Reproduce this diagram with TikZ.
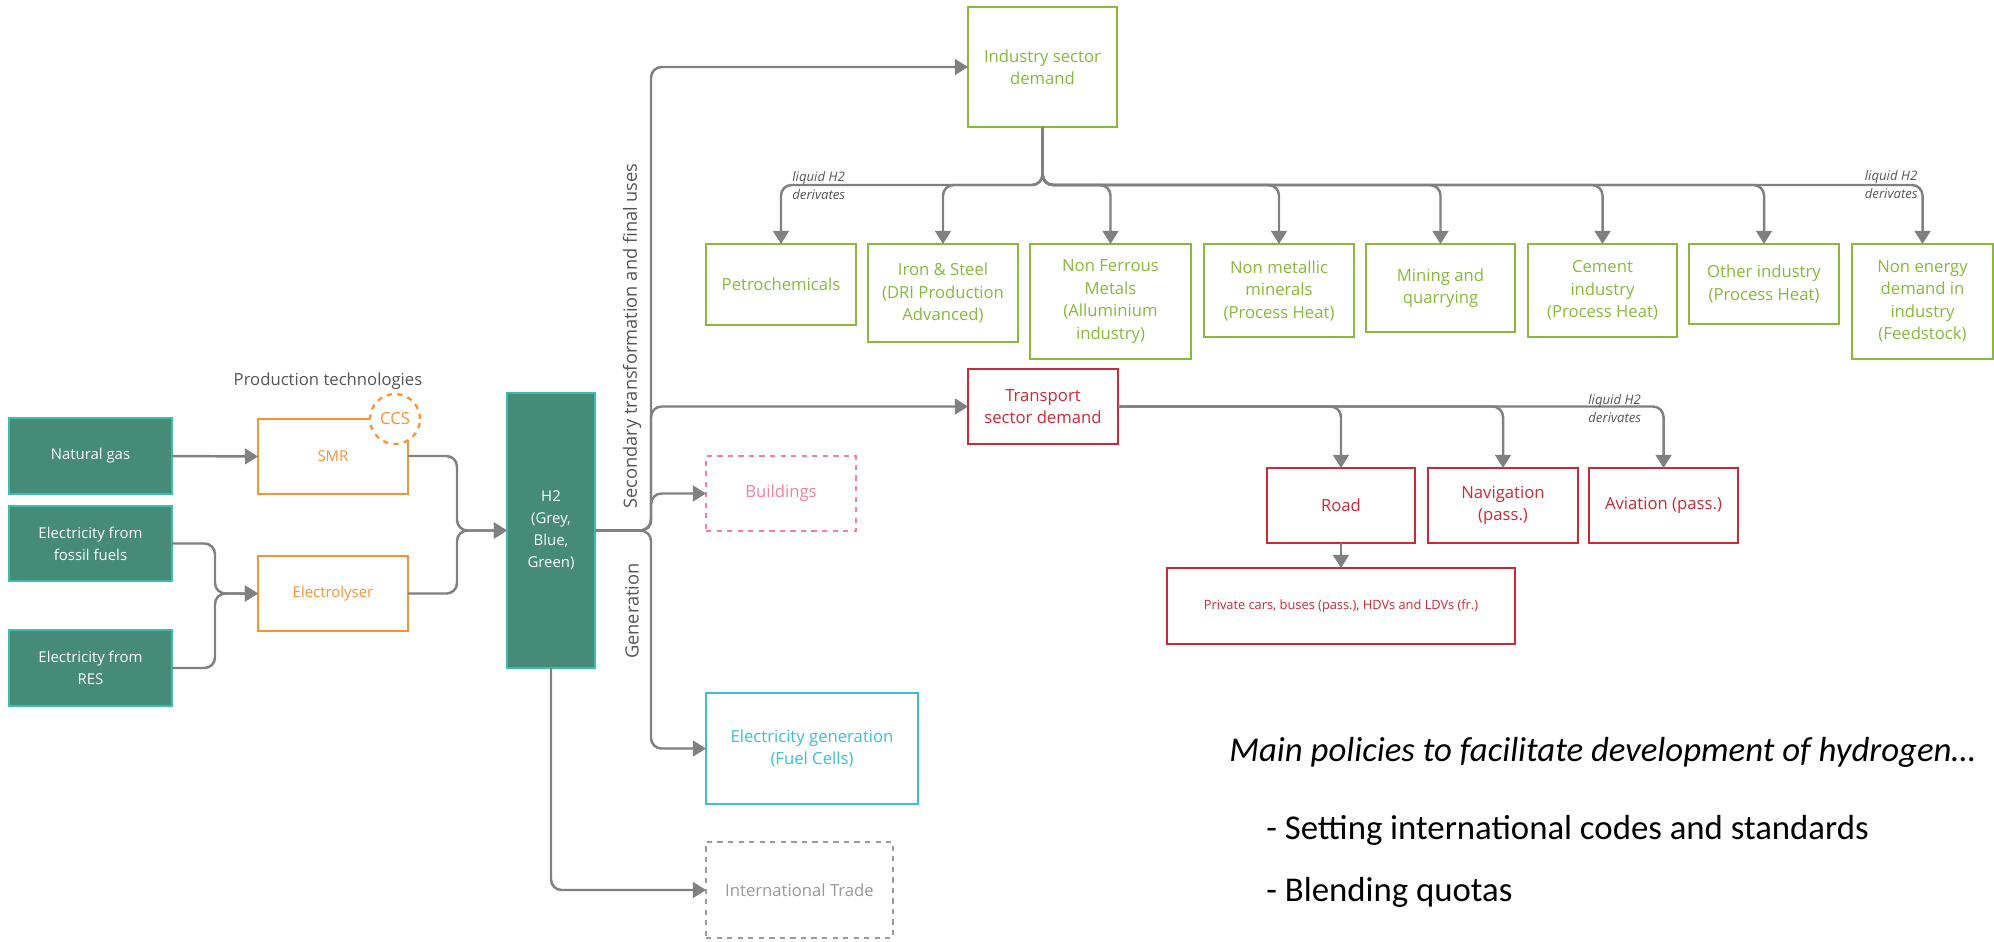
\documentclass[tikz,border=0pt]{standalone}
\usepackage{fontspec}
\setmainfont{Open Sans}
\newfontfamily\calib{Carlito}
\usetikzlibrary{arrows.meta}
\definecolor{cTealFill}{HTML}{458B77}
\definecolor{cTealLine}{HTML}{3DBDB0}
\definecolor{cOrange}{HTML}{F7923A}
\definecolor{cGreen}{HTML}{8AB83C}
\definecolor{cRed}{HTML}{CC2936}
\definecolor{cPink}{HTML}{F0829E}
\definecolor{cCyan}{HTML}{3CC0D0}
\definecolor{cDash}{HTML}{9A9A9A}
\definecolor{cConn}{HTML}{808080}
\definecolor{cLabel}{HTML}{555555}
\newcommand\mybox[7]{\node[#6, minimum width={(#4-#2)*0.02cm}, minimum height={(#5-#3)*0.02cm}] (#1) at ({(#2+#4)/2},{(#3+#5)/2}) {#7};}
\begin{document}
\begin{tikzpicture}[x=0.02cm,y=-0.02cm,
  base/.style={rectangle, inner sep=0pt, outer sep=0pt, align=center, line width=1.5pt, font=\fontsize{8.5}{12.5}\selectfont},
  big/.style={font=\fontsize{9.5}{12.8}\selectfont},
  src/.style={base, draw=cTealLine, fill=cTealFill, text=white},
  prod/.style={base, draw=cOrange, fill=white, text=cOrange},
  ind/.style={base, big, draw=cGreen, fill=white, text=cGreen},
  trn/.style={base, big, draw=cRed, fill=white, text=cRed},
  bld/.style={base, big, draw=cPink, dashed, fill=white, text=cPink},
  gen/.style={base, big, draw=cCyan, fill=white, text=cCyan},
  trd/.style={base, big, draw=cDash, dashed, fill=white, text=cDash},
  conn/.style={draw=cConn, line width=1.4pt, rounded corners=6pt, -{Triangle[length=7.5pt,width=9pt]}},
  lbl/.style={text=cLabel, font=\fontsize{9.5}{12.5}\selectfont},
  liq/.style={text=cLabel, font=\fontsize{7.5}{10.5}\selectfont\itshape, align=left, inner sep=0pt},
  pol/.style={anchor=west, inner sep=0pt, font=\calib\fontsize{19.8}{23}\selectfont}
]
\useasboundingbox (0,0) rectangle (1994,941);
% sources
\mybox{ng}{9}{418}{172}{494}{src}{Natural gas}
\mybox{fossil}{9}{506}{172}{581}{src}{Electricity from\\fossil fuels}
\mybox{res}{9}{630}{172}{706}{src}{Electricity from\\RES}
% production
\node[lbl] (prodlbl) at (328,381) {Production technologies};
\mybox{smr}{258}{419}{408}{494}{prod}{SMR}
\node[circle, draw=cOrange, dashed, fill=white, line width=1.3pt, minimum size={50*0.02cm}, inner sep=0pt, text=cOrange, font=\fontsize{9.5}{11}\selectfont] (ccs) at (395,419) {CCS};
\mybox{elec}{258}{556}{408}{631}{prod}{Electrolyser}
% hub
\mybox{h2}{507}{393}{595}{668}{src}{H2\\(Grey,\\Blue,\\Green)}
% industry
\mybox{indd}{968}{7}{1117}{127}{ind}{Industry sector\\demand}
\mybox{petro}{706}{244}{856}{325}{ind}{Petrochemicals}
\mybox{iron}{868}{244}{1018}{342}{ind}{Iron \& Steel\\(DRI Production\\Advanced)}
\mybox{nf}{1030}{244}{1191}{359}{ind}{Non Ferrous\\Metals\\(Alluminium\\industry)}
\mybox{nm}{1204}{244}{1354}{337}{ind}{Non metallic\\minerals\\(Process Heat)}
\mybox{mining}{1366}{244}{1515}{332}{ind}{Mining and\\quarrying}
\mybox{cement}{1528}{244}{1677}{337}{ind}{Cement\\industry\\(Process Heat)}
\mybox{other}{1689}{244}{1839}{324}{ind}{Other industry\\(Process Heat)}
\mybox{nonen}{1852}{244}{1993}{359}{ind}{Non energy\\demand in\\industry\\(Feedstock)}
% transport
\mybox{trans}{968}{369}{1118}{444}{trn}{Transport\\sector demand}
\mybox{road}{1267}{468}{1415}{543}{trn}{Road}
\mybox{nav}{1428}{468}{1578}{543}{trn}{Navigation\\(pass.)}
\mybox{avi}{1589}{468}{1738}{543}{trn}{Aviation (pass.)}
\mybox{priv}{1167}{568}{1515}{644}{trn, font=\fontsize{7.3}{9}\selectfont}{Private cars, buses (pass.), HDVs and LDVs (fr.)}
% others
\mybox{build}{706}{456}{856}{531}{bld}{Buildings}
\mybox{egen}{706}{693}{918}{804}{gen}{Electricity generation\\(Fuel Cells)}
\mybox{trade}{706}{842}{893}{938}{trd}{International Trade}
% rotated labels
\node[lbl, rotate=90, font=\fontsize{10.4}{12}\selectfont] (seclbl) at (632,336) {Secondary transformation and final uses};
\node[lbl, rotate=90, font=\fontsize{10.4}{12}\selectfont] (genlbl) at (632,611) {Generation};
% connectors: production
\draw[conn] (ng.east) -- (smr.west);
\draw[conn] (fossil.east) -- ++(43,0) |- (elec.west);
\draw[conn] (res.east) -- ++(43,0) |- (elec.west);
\draw[conn] (smr.east |- ng.east) -- ++(49,0) |- (h2.west);
\draw[conn] (elec.east) -- ++(49,0) |- (h2.west);
% connectors: hub
\draw[conn] (h2.east) -- ++(56,0) |- (indd.west);
\draw[conn] (h2.east) -- ++(56,0) |- (trans.west);
\draw[conn] (h2.east) -- ++(56,0) |- (build.west);
\draw[conn] (h2.east) -- ++(56,0) |- (egen.west);
\draw[conn] (h2.south) |- (trade.west);
% industry branches
\foreach \t in {petro,iron,nf,nm,mining,cement,other,nonen}
  \draw[conn] (indd.south) -- ++(0,58) -| (\t.north);
% transport branches
\foreach \t in {road,nav,avi}
  \draw[conn] (trans.east) -| (\t.north);
\draw[conn] (road.south) -- (priv.north);
% liquid H2 labels
\node[liq, anchor=north west] (liq1) at (792,171) {liquid H2\\derivates};
\node[liq, anchor=north east] (liq2) at (1918,170) {liquid H2\\derivates};
\node[liq, anchor=north west] (liq3) at (1588,394) {liquid H2\\derivates};
% policies
\node[pol, font=\calib\itshape\fontsize{19.8}{23}\selectfont] (p0) at (1229,752) {Main policies to facilitate development of hydrogen…};
\node[pol] (p1) at (1266,830) {- Setting international codes and standards};
\node[pol] (p2) at (1266,892) {- Blending quotas};
\end{tikzpicture}
\end{document}
